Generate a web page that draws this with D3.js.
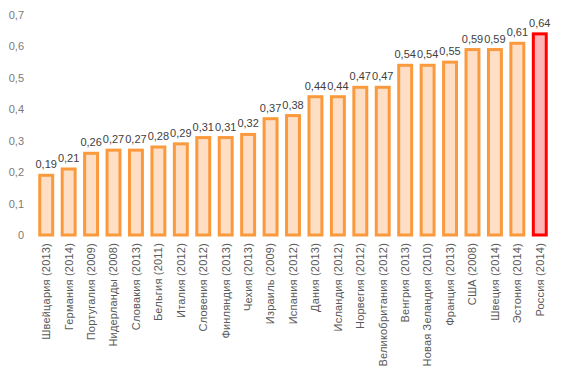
<!DOCTYPE html>
<html>
<head>
<meta charset="utf-8">
<script src="https://cdn.jsdelivr.net/npm/d3@7"></script>
<style>
  body { margin: 0; background: #fff; }
  text { font-family: "Liberation Sans", Arial, sans-serif; }
</style>
</head>
<body>
<div id="chart"></div>
<script>
var countries = ["Швейцария (2013)", "Германия (2014)", "Португалия (2009)", "Нидерланды (2008)",
                 "Словакия (2013)", "Бельгия (2011)", "Италия (2012)", "Словения (2012)",
                 "Финляндия (2013)", "Чехия (2013)", "Израиль (2009)", "Испания (2012)",
                 "Дания (2013)", "Исландия (2012)", "Норвегия (2012)", "Великобритания (2012)",
                 "Венгрия (2013)", "Новая Зеландия (2010)", "Франция (2013)", "США (2008)",
                 "Швеция (2014)", "Эстония (2014)", "Россия (2014)"];
var values = [0.19, 0.21, 0.26, 0.27, 0.27, 0.28, 0.29, 0.31, 0.31, 0.32, 0.37, 0.38,
              0.44, 0.44, 0.47, 0.47, 0.54, 0.54, 0.55, 0.59, 0.59, 0.61, 0.64];
var yTicks = [0, 0.1, 0.2, 0.3, 0.4, 0.5, 0.6, 0.7];
var highlight = "Россия (2014)";

var width = 566, height = 372;
var fmt = function(v) { return d3.format(".2f")(v).replace(".", ","); };
var fmtTick = function(v) { return v === 0 ? "0" : d3.format(".1f")(v).replace(".", ","); };

var svg = d3.select("#chart").append("svg")
    .attr("width", width)
    .attr("height", height);

var x = d3.scaleBand()
    .domain(countries)
    .range([35, 551])
    .paddingInner(0.29)
    .paddingOuter(0.145);

var y = d3.scaleLinear()
    .domain([0, 0.7])
    .range([235, 15]);

var yAxis = svg.append("g")
    .attr("transform", "translate(26,0)")
    .call(d3.axisLeft(y).tickValues(yTicks).tickFormat(fmtTick).tickSize(0).tickPadding(2));
yAxis.select(".domain").remove();
yAxis.selectAll("text")
    .attr("fill", "#7a7a7a")
    .attr("font-size", "11px");

var data = countries.map(function(c, i) { return {name: c, value: values[i]}; });

svg.selectAll("rect.bar")
    .data(data)
  .enter().append("rect")
    .attr("class", "bar")
    .attr("x", function(d) { return x(d.name) + 1.5; })
    .attr("width", x.bandwidth() - 3)
    .attr("y", function(d) { return y(d.value); })
    .attr("height", function(d) { return y(0) - y(d.value); })
    .attr("fill", function(d) { return d.name === highlight ? "#ffb5b5" : "#fedec4"; })
    .attr("stroke", function(d) { return d.name === highlight ? "#ff0000" : "#fb9a3d"; })
    .attr("stroke-width", 3);

svg.selectAll("text.val")
    .data(data)
  .enter().append("text")
    .attr("class", "val")
    .attr("x", function(d) { return x(d.name) + x.bandwidth() / 2; })
    .attr("y", function(d) { return y(d.value) - 7; })
    .attr("text-anchor", "middle")
    .attr("font-size", "11px")
    .attr("fill", "#404040")
    .text(function(d) { return fmt(d.value); });

var xAxis = svg.append("g")
    .attr("transform", "translate(0,243)")
    .call(d3.axisBottom(x).tickSize(0).tickPadding(0));
xAxis.select(".domain").remove();
xAxis.selectAll("text")
    .attr("transform", "rotate(-90)")
    .attr("text-anchor", "end")
    .attr("x", 0)
    .attr("y", 0)
    .attr("dy", "0.35em")
    .attr("fill", "#595959")
    .attr("font-size", "11px")
    .attr("letter-spacing", "0.2px");
</script>
</body>
</html>
